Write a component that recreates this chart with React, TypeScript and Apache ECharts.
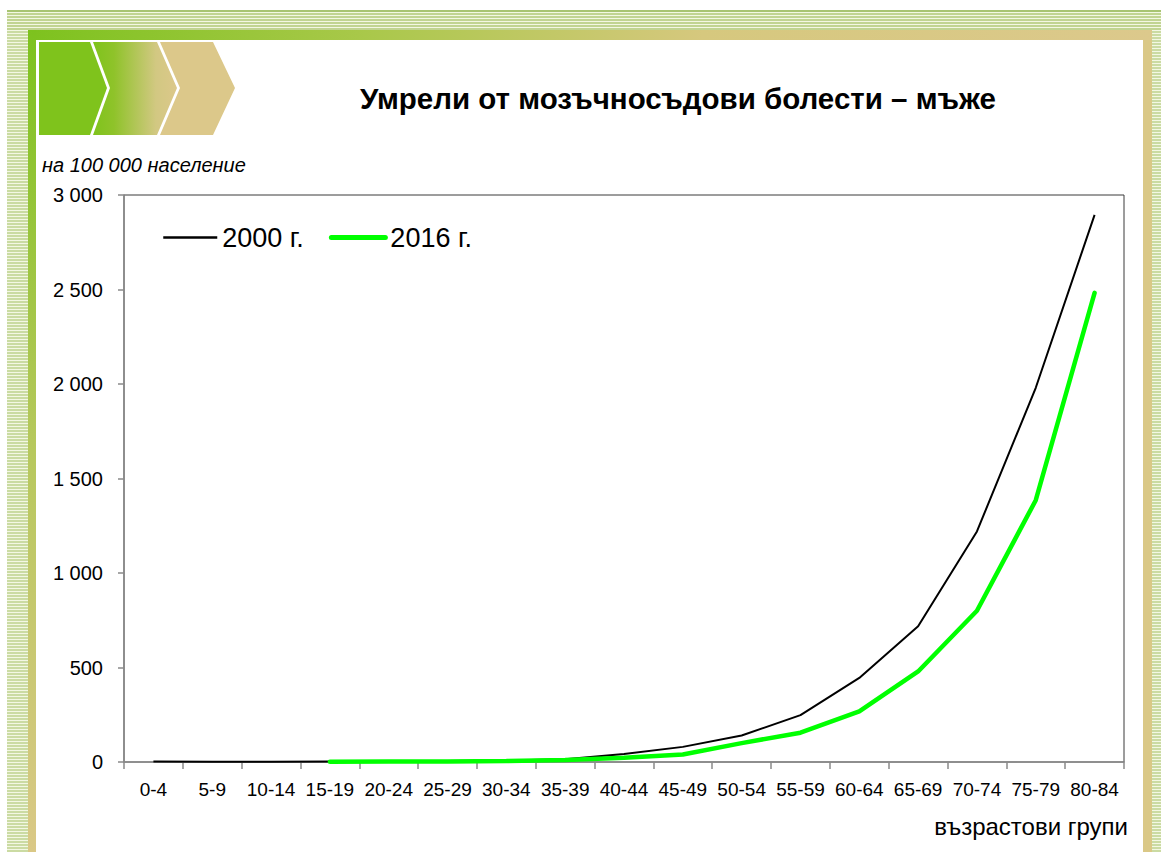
import React, { useEffect, useRef } from "react";
import * as echarts from "echarts";

const categories = ["0-4", "5-9", "10-14", "15-19", "20-24", "25-29", "30-34", "35-39", "40-44", "45-49", "50-54", "55-59", "60-64", "65-69", "70-74", "75-79", "80-84"];
const values2000 = [3, 1, 1, 2, 3, 5, 8, 15, 42, 80, 140, 248, 445, 718, 1220, 1980, 2895];
const values2016 = [null, null, null, 1, 2, 3, 5, 10, 22, 40, 100, 155, 268, 479, 800, 1385, 2482];
const seriesNames = ["2000 г.", "2016 г."];
const titleText = "Умрели от мозъчносъдови болести – мъже";
const unitText = "на 100 000 население";
const xAxisName = "възрастови групи";

const FONT = "'Liberation Sans', Arial, sans-serif";

function fmt(v: number): string {
  if (v >= 1000) {
    return Math.floor(v / 1000) + " " + String(v % 1000).padStart(3, "0");
  }
  return String(v);
}

function buildGraphics() {
  const els: any[] = [];
  const stripeBg = "#f3f7e3";
  const stripeLine = "#b0c877";
  els.push({ type: "rect", z: -20, shape: { x: 7, y: 10, width: 1154, height: 20 }, style: { fill: stripeBg } });
  els.push({ type: "rect", z: -20, shape: { x: 7, y: 30, width: 21, height: 822 }, style: { fill: stripeBg } });
  els.push({ type: "rect", z: -20, shape: { x: 1152, y: 30, width: 9, height: 822 }, style: { fill: stripeBg } });
  for (let y = 11; y < 30; y += 3) {
    els.push({ type: "line", z: -19, shape: { x1: 7, y1: y, x2: 1161, y2: y }, style: { stroke: y === 11 ? "#8fb34c" : stripeLine, lineWidth: 1.5 } });
  }
  for (let y = 32; y < 852; y += 3) {
    els.push({ type: "line", z: -19, shape: { x1: 7, y1: y, x2: 28, y2: y }, style: { stroke: stripeLine, lineWidth: 1.2 } });
    els.push({ type: "line", z: -19, shape: { x1: 1152, y1: y, x2: 1161, y2: y }, style: { stroke: stripeLine, lineWidth: 1.2 } });
  }
  els.push({
    type: "rect", z: -18, shape: { x: 28, y: 30, width: 1124, height: 10 },
    style: {
      fill: new echarts.graphic.LinearGradient(0, 0, 1, 0, [
        { offset: 0, color: "#7dc21e" },
        { offset: 0.3, color: "#a9c84a" },
        { offset: 0.6, color: "#d6c87e" },
        { offset: 1, color: "#dcc98c" },
      ]),
    },
  });
  els.push({
    type: "rect", z: -18, shape: { x: 28, y: 30, width: 8, height: 822 },
    style: {
      fill: new echarts.graphic.LinearGradient(0, 0, 0, 1, [
        { offset: 0, color: "#7dc21e" },
        { offset: 0.5, color: "#b6c85c" },
        { offset: 1, color: "#dac886" },
      ]),
    },
  });
  els.push({ type: "rect", z: -18, shape: { x: 1143, y: 40, width: 9, height: 812 }, style: { fill: "#dac886" } });
  els.push({ type: "rect", z: -18, shape: { x: 36, y: 40, width: 1107, height: 812 }, style: { fill: "#ffffff" } });
  els.push({ type: "polygon", z: -17, shape: { points: [[39, 42], [90, 42], [107, 88], [90, 135], [39, 135]] }, style: { fill: "#7fc31c" } });
  els.push({
    type: "polygon", z: -17, shape: { points: [[93, 42], [157, 42], [177, 88], [157, 135], [93, 135], [110, 88]] },
    style: {
      fill: new echarts.graphic.LinearGradient(0, 0, 1, 0, [
        { offset: 0, color: "#7fc31c" },
        { offset: 0.25, color: "#8fc32a" },
        { offset: 0.75, color: "#d2c882" },
        { offset: 1, color: "#dcc88a" },
      ]),
    },
  });
  els.push({ type: "polygon", z: -17, shape: { points: [[160, 42], [213, 42], [235, 88], [213, 135], [160, 135], [180, 88]] }, style: { fill: "#dcc88a" } });
  els.push({
    type: "text", z: 10, x: 678, y: 98,
    style: { text: titleText, fontFamily: FONT, fontWeight: "bold", fontSize: 29.5, fill: "#000", align: "center", verticalAlign: "middle" },
  });
  els.push({
    type: "text", z: 10, x: 42, y: 165,
    style: { text: unitText, fontFamily: FONT, fontStyle: "italic", fontSize: 20, fill: "#000", align: "left", verticalAlign: "middle" },
  });
  els.push({
    type: "text", z: 10, x: 1128, y: 826,
    style: { text: xAxisName, fontFamily: FONT, fontSize: 24, fill: "#000", align: "right", verticalAlign: "middle" },
  });
  return els;
}

export default function App() {
  const ref = useRef<HTMLDivElement>(null);
  useEffect(() => {
    if (!ref.current) return;
    const chart = echarts.init(ref.current, null, { renderer: "svg" });
    chart.setOption({
      animation: false,
      backgroundColor: "transparent",
      graphic: { elements: buildGraphics() },
      legend: {
        left: 157,
        top: 219,
        itemWidth: 54,
        itemHeight: 14,
        itemGap: 25,
        textStyle: { fontFamily: FONT, fontSize: 27, color: "#000" },
        itemStyle: { opacity: 0 },
        data: [
          { name: seriesNames[0], lineStyle: { width: 2.5, color: "#000000" } },
          { name: seriesNames[1], lineStyle: { width: 5, color: "#00ff00" } },
        ],
      },
      grid: {
        left: 124,
        right: 37,
        top: 195,
        bottom: 90,
        show: true,
        borderColor: "#3a3a3a",
        borderWidth: 1,
        backgroundColor: "transparent",
      },
      xAxis: {
        type: "category",
        data: categories,
        boundaryGap: true,
        axisLine: { show: true, lineStyle: { color: "#8a8a8a", width: 1.5 } },
        axisTick: { show: true, alignWithLabel: false, length: 7, lineStyle: { color: "#8a8a8a", width: 1.5 } },
        axisLabel: { interval: 0, margin: 18, fontFamily: FONT, fontSize: 19, color: "#000" },
        splitLine: { show: false },
      },
      yAxis: {
        type: "value",
        min: 0,
        max: 3000,
        interval: 500,
        axisLine: { show: true, lineStyle: { color: "#8a8a8a", width: 1.5 } },
        axisTick: { show: true, length: 6, lineStyle: { color: "#8a8a8a", width: 1.5 } },
        axisLabel: { margin: 21, fontFamily: FONT, fontSize: 20, color: "#000", formatter: (v: number) => fmt(v) },
        splitLine: { show: false },
      },
      series: [
        {
          name: seriesNames[0],
          type: "line",
          data: values2000,
          symbol: "none",
          lineStyle: { color: "#000000", width: 2 },
          itemStyle: { color: "#000000" },
          z: 3,
        },
        {
          name: seriesNames[1],
          type: "line",
          data: values2016,
          symbol: "none",
          connectNulls: false,
          lineStyle: { color: "#00ff00", width: 4.5, cap: "round" },
          itemStyle: { color: "#00ff00" },
          z: 4,
        },
      ],
    });
    return () => chart.dispose();
  }, []);
  return (
    <div
      ref={ref}
      style={{ position: "absolute", left: 0, top: 0, width: 1161, height: 852, background: "#fff" }}
    />
  );
}
